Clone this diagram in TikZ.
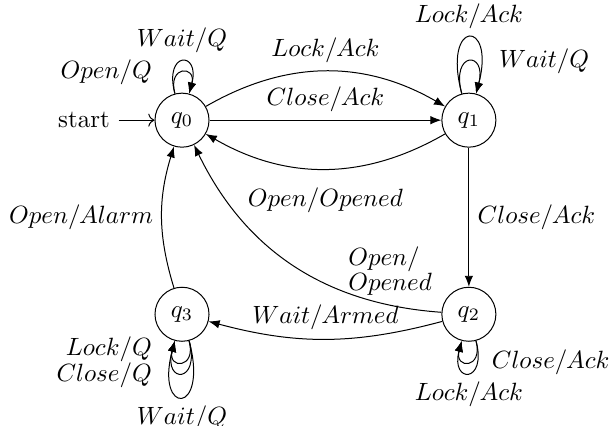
\documentclass[tikz,border=0pt]{standalone}
\usepackage{amsmath,amssymb}
\usetikzlibrary{positioning,arrows.meta}

\begin{document}
\begin{tikzpicture}[auto,
    state/.style={circle,draw,minimum size=7.6mm,inner sep=1pt},
    trans/.style={-{Latex[length=4.4pt,width=3.4pt]}},
    loopup/.style={out=105,in=75,looseness=8},
    loopdown/.style={out=-75,in=-105,looseness=8},
    loopsmall/.style={looseness=5.3},
    loopbig/.style={looseness=14}]
\useasboundingbox (-2.56,-4.30) rectangle (6.02,1.69);
\node[state] (q0) at (0,0) {$q_0$};
\node[state] (q1) at (4.035,0) {$q_1$};
\node[state] (q2) at (4.035,-2.73) {$q_2$};
\node[state] (q3) at (0,-2.73) {$q_3$};
\node (start) at (-1.378,0) {start};
\draw[->] (start) -- (q0);

\draw[trans] (q0) to[bend left] node {$Lock/Ack$} (q1);
\draw[trans] (q0) -- node {$Close/Ack$} (q1);
\draw[trans] (q1) to[bend left] node[below=4pt] {$Open/Opened$} (q0);
\draw[trans] (q1) -- node {$Close/Ack$} (q2);
\draw[trans] (q2) to[bend left] node[pos=.17,above,align=left,xshift=2pt] {$Open/$\\[-2pt]$Opened$} (q0);
\draw[trans] (q2) to[bend left=15] node[swap] {$Wait/Armed$} (q3);
\draw[trans] (q3) to[bend left=17] node {$Open/Alarm$} (q0);

% self loops
\draw[trans] (q0) to[loopup] node[above] {$Wait/Q$} (q0);
\draw[trans] (q0) to[loopup,loopsmall] node[left=3mm] {$Open/Q$} (q0);
\draw[trans] (q1) to[loopup,loopbig] node[above] {$Lock/Ack$} (q1);
\draw[trans] (q1) to[loopup] node[right=3mm] {$Wait/Q$} (q1);
\draw[trans] (q2) to[loopdown] node[below] {$Lock/Ack$} (q2);
\draw[trans] (q2) to[loopdown,loopsmall] node[right=2mm] {$Close/Ack$} (q2);
\draw[trans] (q3) to[loopdown,loopsmall] node[left=3mm,yshift=5pt] {$Lock/Q$} (q3);
\draw[trans] (q3) to[loopdown] node[left=3mm,yshift=-1pt] {$Close/Q$} (q3);
\draw[trans] (q3) to[loopdown,loopbig] node[below] {$Wait/Q$} (q3);
\end{tikzpicture}
\end{document}
